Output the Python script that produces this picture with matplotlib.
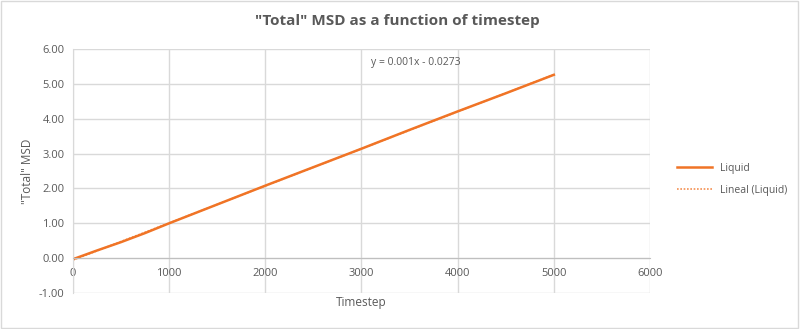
import numpy as np
import matplotlib.pyplot as plt
from matplotlib.patches import Rectangle

# Values
timestep = [0, 250, 500, 750, 1000, 1500, 2000, 2500, 3000, 3500, 4000, 4500, 5000]
msd = [-0.03, 0.22, 0.46, 0.72, 1.00, 1.54, 2.08, 2.61, 3.14, 3.68, 4.21, 4.73, 5.26]
x_ticks = [0, 1000, 2000, 3000, 4000, 5000, 6000]
y_ticks = [-1, 0, 1, 2, 3, 4, 5, 6]
equation = "y = 0.001x - 0.0273"

plt.rcParams['font.family'] = ['Open Sans', 'DejaVu Sans']
orange = '#F07426'
txt = '#595959'
grid_c = '#d9d9d9'

fig = plt.figure(figsize=(8, 3.29), dpi=100)
ax = fig.add_axes([0.0912, 0.1094, 0.7213, 0.7416])

ax.plot(timestep, msd, color=orange, linewidth=1.8, label='Liquid')

# linear trendline
coef = np.polyfit(timestep, msd, 1)
tx = np.array([timestep[0], timestep[-1]])
ax.plot(tx, np.polyval(coef, tx), color=orange, linewidth=1.2, linestyle=(0, (1, 1)),
        alpha=0.8, label='Lineal (Liquid)')

ax.set_xlim(0, 6000)
ax.set_ylim(-1, 6)
ax.set_xticks(x_ticks)
ax.set_yticks(y_ticks)
ax.set_yticklabels([f'{v:.2f}' for v in y_ticks])
ax.grid(True, color=grid_c, linewidth=1)
ax.set_axisbelow(True)

for s in ['top', 'right']:
    ax.spines[s].set_visible(False)
ax.spines['left'].set_color(grid_c)
ax.spines['bottom'].set_position(('data', 0))
ax.spines['bottom'].set_color('#bfbfbf')
ax.tick_params(length=0, labelsize=8, labelcolor=txt)
ax.tick_params(axis='x', pad=7)
ax.tick_params(axis='y', pad=6)

ax.text(3100, 5.55, equation, fontsize=7.5, color=txt)

fig.text(0.497, 0.935, '"Total" MSD as a function of timestep', ha='center', va='center',
         fontsize=11, color=txt, fontweight='bold')
fig.text(0.034, 0.48, '"Total" MSD', rotation=90, ha='center', va='center', fontsize=8.5, color=txt)
fig.text(0.451, 0.082, 'Timestep', ha='center', va='center', fontsize=8.5, color=txt)

fig.legend(loc='center left', bbox_to_anchor=(0.835, 0.455), frameon=False, fontsize=7.5,
           labelcolor=txt, handlelength=3.3, labelspacing=1.0)

fig.patches.append(Rectangle((0.001, 0.002), 0.997, 0.995, transform=fig.transFigure,
                             fill=False, edgecolor=grid_c, linewidth=1))

fig.savefig('out.png', dpi=100)
